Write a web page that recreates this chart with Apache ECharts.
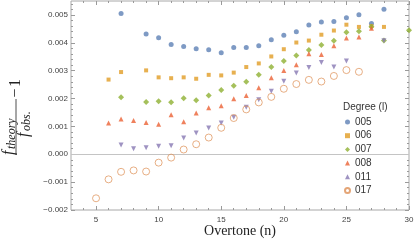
<!DOCTYPE html>
<html><head><meta charset="utf-8">
<script src="https://cdn.jsdelivr.net/npm/echarts@6/dist/echarts.min.js"></script>
<style>html,body{margin:0;padding:0;background:#fff}#c{width:415px;height:240px}</style>
</head><body><div id="c"></div>
<script>
// ---- data ----
const seriesNames = ['005', '006', '007', '008', '011', '017'];
const n005 = [7, 9, 10, 11, 12, 13, 14, 15, 16, 17, 18, 19, 20, 21, 22, 23, 24, 25, 26, 27, 28];
const v005 = [0.00505, 0.00432, 0.00418, 0.00394, 0.00387, 0.00379, 0.00375, 0.00364, 0.00383, 0.00383, 0.00389, 0.00411, 0.00427, 0.00440, 0.00464, 0.00475, 0.00476, 0.00490, 0.00501, 0.00469, 0.00520];
const n006 = [6, 7, 9, 10, 11, 12, 13, 14, 15, 16, 17, 18, 19, 20, 21, 22, 23, 24, 25, 26, 27, 28];
const v006 = [0.00268, 0.00295, 0.00301, 0.00276, 0.00273, 0.00276, 0.00271, 0.00285, 0.00283, 0.00293, 0.00313, 0.00326, 0.00351, 0.00377, 0.00401, 0.00408, 0.00429, 0.00444, 0.00465, 0.00457, 0.00460, 0.00457];
const n007 = [7, 9, 10, 11, 12, 13, 14, 15, 16, 17, 18, 19, 20, 21, 22, 23, 24, 25, 26, 27, 28, 30];
const v007 = [0.00205, 0.00188, 0.00190, 0.00187, 0.00201, 0.00194, 0.00211, 0.00231, 0.00246, 0.00260, 0.00285, 0.00313, 0.00335, 0.00354, 0.00374, 0.00392, 0.00407, 0.00438, 0.00441, 0.00458, 0.00408, 0.00445];
const n008 = [6, 7, 8, 9, 10, 11, 12, 13, 14, 15, 16, 17, 18, 19, 20, 21, 22, 23, 24, 25, 26, 27];
const v008 = [0.00112, 0.00127, 0.00121, 0.00114, 0.00108, 0.00142, 0.00117, 0.00148, 0.00167, 0.00174, 0.00199, 0.00211, 0.00239, 0.00275, 0.00301, 0.00321, 0.00361, 0.00358, 0.00389, 0.00417, 0.00421, 0.00452];
const n011 = [7, 8, 9, 10, 11, 12, 13, 14, 15, 16, 17, 18, 19, 20, 21, 22, 23, 24, 25, 28];
const v011 = [0.00033, 0.00020, 0.00023, 0.00029, 0.00031, 0.00058, 0.00076, 0.00094, 0.00112, 0.00133, 0.00169, 0.00196, 0.00226, 0.00262, 0.00292, 0.00311, 0.00329, 0.00313, 0.00335, 0.00407];
const n017 = [5, 6, 7, 8, 9, 10, 11, 12, 13, 14, 15, 16, 17, 18, 19, 20, 21, 22, 23, 24, 25, 26];
const v017 = [-0.00158, -0.00090, -0.00063, -0.00058, -0.00062, -0.00030, -0.00012, 0.00017, 0.00036, 0.00060, 0.00095, 0.00130, 0.00161, 0.00186, 0.00206, 0.00235, 0.00252, 0.00267, 0.00261, 0.00281, 0.00302, 0.00296];

const xTickValues = [5, 10, 15, 20, 25, 30];
const yTickValues = [-0.002, -0.001, 0, 0.001, 0.002, 0.003, 0.004, 0.005];
const xAxisTitle = 'Overtone (n)';
const legendTitle = 'Degree (l)';
const zeroLine = 0;

// ---- build ----
const xRange = [3, 30];
const yRange = [-0.002, 0.0055];
const xMinor = [];
for (let i = 4; i < 30; i++) if (i % 5 !== 0) xMinor.push(i);
const yMinor = [];
for (let k = -9; k <= 27; k++) if (k % 5 !== 0) yMinor.push(Math.round(k * 2) / 10000);

const colors = ['#5e81b5', '#e19c24', '#8fb032', '#eb6235', '#8778b3', '#dd8f55'];
const allN = [n005, n006, n007, n008, n011, n017];
const allV = [v005, v006, v007, v008, v011, v017];
const symbols = ['circle', 'rect', 'diamond', 'triangle', 'triangle', 'circle'];
const sizes = [5, 4, 6, 5, 5, 7];
const rotates = [0, 0, 0, 0, 180, 0];

const tickColor = '#9a9a9a';
function tickAxis(dim, opts, values, len, labels) {
  return Object.assign({
    type: 'value', min: dim === 'x' ? xRange[0] : yRange[0], max: dim === 'x' ? xRange[1] : yRange[1],
    axisLine: { show: false, onZero: false },
    splitLine: { show: false },
    minorTick: { show: false },
    minorSplitLine: { show: false },
    splitArea: { show: false },
    axisTick: { show: true, inside: true, length: len, customValues: values, lineStyle: { color: tickColor, width: 1 } },
    axisLabel: labels ? labels : { show: false }
  }, opts);
}

const xAxes = [
  tickAxis('x', { position: 'bottom', offset: 0, name: xAxisTitle, nameLocation: 'middle', nameGap: 14, nameMoveOverlap: false,
    nameTextStyle: { fontFamily: 'Liberation Serif', fontSize: 14, color: '#222' } },
    xTickValues, 4, { show: true, customValues: xTickValues, margin: 6, fontSize: 8, color: '#444', fontFamily: 'Liberation Sans' }),
  tickAxis('x', { position: 'bottom', offset: 0 }, xMinor, 2),
  tickAxis('x', { position: 'top', offset: 0 }, xTickValues, 4),
  tickAxis('x', { position: 'top', offset: 0 }, xMinor, 2)
];
const fmtY = v => {
  if (Math.abs(v) < 1e-12) return '0.000';
  return (v < 0 ? '\u2212' : '') + Math.abs(v).toFixed(3);
};
const yAxes = [
  tickAxis('y', { position: 'left', offset: 0 }, yTickValues, 4,
    { show: true, customValues: yTickValues, margin: 3, fontSize: 8, color: '#444', fontFamily: 'Liberation Sans', formatter: fmtY }),
  tickAxis('y', { position: 'left', offset: 0 }, yMinor, 2),
  tickAxis('y', { position: 'right', offset: 0 }, yTickValues, 4),
  tickAxis('y', { position: 'right', offset: 0 }, yMinor, 2)
];

const series = seriesNames.map((name, i) => {
  const s = {
    name: name, type: 'scatter', xAxisIndex: 0, yAxisIndex: 0,
    symbol: symbols[i], symbolSize: sizes[i], symbolRotate: rotates[i],
    data: allN[i].map((n, j) => [n, allV[i][j]]),
    itemStyle: { color: colors[i] },
    z: 3 + i
  };
  if (i === 5) {
    s.itemStyle = { color: 'rgba(0,0,0,0)', borderColor: colors[i], borderWidth: 0.9 };
  }
  if (i === 0) {
    s.markLine = { silent: true, symbol: 'none', label: { show: false }, animation: false,
      lineStyle: { color: '#c4c4c4', type: 'solid', width: 1 }, data: [{ yAxis: zeroLine }] };
  }
  return s;
});

const serif = 'Liberation Serif';
const yLabel = {
  type: 'group', x: 16, y: 127, rotation: Math.PI / 2,
  children: [
    { type: 'line', shape: { x1: -28, y1: 0, x2: 28, y2: 0 }, style: { stroke: '#222', lineWidth: 0.8 } },
    { type: 'text', x: -28, y: -7, style: { text: 'f', font: 'italic 16px ' + serif, fill: '#222', verticalAlign: 'middle', align: 'left' } },
    { type: 'text', x: -22, y: -4.5, style: { text: 'theory', font: 'italic 12px ' + serif, fill: '#222', verticalAlign: 'middle', align: 'left' } },
    { type: 'text', x: -10, y: 8, style: { text: 'f', font: 'italic 16px ' + serif, fill: '#222', verticalAlign: 'middle', align: 'left' } },
    { type: 'text', x: -4, y: 11, style: { text: 'obs.', font: 'italic 12px ' + serif, fill: '#222', verticalAlign: 'middle', align: 'left' } },
    { type: 'text', x: 34, y: 0, style: { text: '\u2212', font: '16px ' + serif, fill: '#222', verticalAlign: 'middle', align: 'center' } },
    { type: 'text', x: 44, y: 0, style: { text: '1', font: '16px ' + serif, fill: '#222', verticalAlign: 'middle', align: 'center' } }
  ]
};

const chart = echarts.init(document.getElementById('c'), null, { renderer: 'canvas' });
chart.setOption({
  animation: false,
  backgroundColor: '#fff',
  grid: { left: 71, right: 6, top: 1, bottom: 30, containLabel: false, outerBoundsMode: 'none',
    show: true, borderColor: '#a8a8a8', borderWidth: 1, backgroundColor: 'transparent' },
  title: { text: legendTitle, left: 343, top: 102, padding: 0,
    textStyle: { fontSize: 10, fontWeight: 'normal', color: '#333', fontFamily: 'Liberation Sans' } },
  legend: {
    orient: 'vertical', left: 344, top: 117, padding: 0,
    itemWidth: 5, itemHeight: 5, itemGap: 3.7,
    data: seriesNames,
    textStyle: { fontSize: 10, color: '#333', fontFamily: 'Liberation Sans', lineHeight: 10 }
  },
  xAxis: xAxes,
  yAxis: yAxes,
  series: series,
  graphic: [yLabel]
});
</script>
</body></html>
